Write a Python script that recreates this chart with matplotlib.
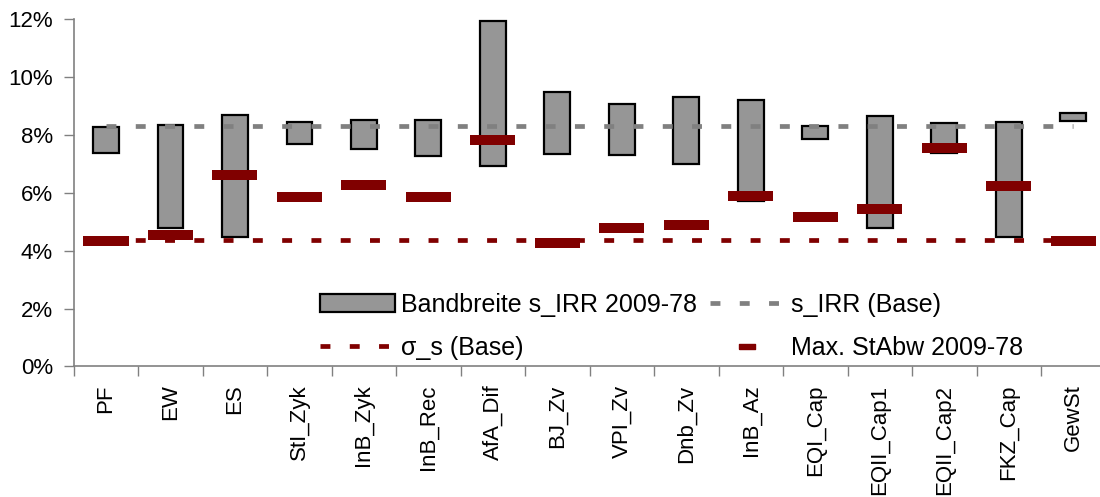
import matplotlib
matplotlib.use("Agg")
import matplotlib.pyplot as plt
from matplotlib.lines import Line2D
from matplotlib.patches import Patch
import numpy as np

plt.rcParams['font.family'] = ['Liberation Sans', 'DejaVu Sans']

# data (percent)
categories = ["PF", "EW", "ES", "StI_Zyk", "InB_Zyk", "InB_Rec", "AfA_Dif", "BJ_Zv",
              "VPI_Zv", "Dnb_Zv", "InB_Az", "EQI_Cap", "EQII_Cap1", "EQII_Cap2",
              "FKZ_Cap", "GewSt"]
band_low = [7.37, 4.78, 4.49, 7.69, 7.52, 7.27, 6.92, 7.36,
            7.30, 7.01, 5.72, 7.86, 4.78, 7.38, 4.46, 8.49]
band_high = [8.29, 8.35, 8.70, 8.46, 8.52, 8.51, 11.95, 9.50,
             9.09, 9.32, 9.20, 8.31, 8.66, 8.43, 8.44, 8.78]
max_stabw = [4.34, 4.54, 6.61, 5.87, 6.28, 5.85, 7.83, 4.28,
             4.79, 4.89, 5.89, 5.16, 5.43, 7.55, 6.24, 4.34]
s_irr_base = 8.30
sigma_base = 4.36

dark_red = '#800000'
gray_line = '#808080'

fig = plt.figure(figsize=(11, 4.97), dpi=100)
ax = fig.add_axes([0.067, 0.2626, 0.938, 0.6984])

x = np.arange(len(categories))
lo = np.array(band_low)
hi = np.array(band_high)

ax.bar(x, hi - lo, bottom=lo, width=0.4, color='#969696', edgecolor='black',
       linewidth=1.6, zorder=2)
ax.plot([x[0], x[-1]], [s_irr_base] * 2, color=gray_line, lw=3.4,
        linestyle=(0, (2.1, 4.1)), dash_capstyle='butt', zorder=3)
ax.plot([x[0], x[-1]], [sigma_base] * 2, color=dark_red, lw=3.4,
        linestyle=(0, (2.1, 4.1)), dash_capstyle='butt', zorder=3)
ax.hlines(max_stabw, x - 0.35, x + 0.35, color=dark_red, lw=7.2, zorder=4)

ax.set_xlim(-0.5, len(categories) - 0.5)
ax.set_ylim(0, 12)
ax.set_yticks(np.arange(0, 13, 2))
ax.set_yticklabels([f"{v}%" for v in range(0, 13, 2)])
ax.set_xticks(x)
ax.set_xticklabels(categories, rotation=90)
ax.set_xticks(np.arange(-0.5, len(categories), 1), minor=True)
ax.tick_params(axis='x', which='major', length=0, pad=13, labelsize=16)
ax.tick_params(axis='x', which='minor', length=7, width=1, color=gray_line)
ax.tick_params(axis='y', length=7, width=1, color=gray_line, pad=8, labelsize=16)

for s in ['top', 'right']:
    ax.spines[s].set_visible(False)
for s in ['left', 'bottom']:
    ax.spines[s].set_color(gray_line)
    ax.spines[s].set_linewidth(1.2)

rect_marker = [(-1, -0.3), (1, -0.3), (1, 0.3), (-1, 0.3), (-1, -0.3)]
handles = [
    Patch(facecolor='#969696', edgecolor='black', linewidth=1.6),
    Line2D([], [], color=dark_red, lw=3.4, linestyle=(0, (2.1, 4.1))),
    Line2D([], [], color=gray_line, lw=3.4, linestyle=(0, (2.1, 4.1))),
    Line2D([], [], color=dark_red, marker=rect_marker, markersize=12, linestyle='none'),
]
labels = ["Bandbreite s_IRR 2009-78", "σ_s (Base)", "s_IRR (Base)", "Max. StAbw 2009-78"]
fig.legend(handles, labels, ncol=2, loc='upper left', bbox_to_anchor=(0.291, 0.4105),
           frameon=False, fontsize=18, borderpad=0, handlelength=3.0,
           handletextpad=0.25, columnspacing=0.5, labelspacing=0.75, borderaxespad=0)

fig.savefig("out.png", dpi=100)
